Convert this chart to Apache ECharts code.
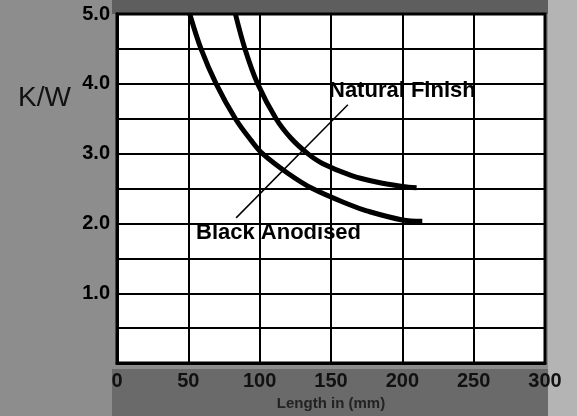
<!DOCTYPE html>
<html>
<head>
<meta charset="UTF-8"/>
<title>K/W vs Length</title>
<script src="https://cdn.jsdelivr.net/npm/echarts@6/dist/echarts.min.js"></script>
<style>
  html, body { margin: 0; padding: 0; background: #8d8d8d; }
  #chart { width: 577px; height: 416px; }
</style>
</head>
<body>
<div id="chart"></div>
<script>
// curve points: [length mm, K/W]
var blackAnodised = [[51, 5.0], [58.9, 4.5], [69.5, 4.0], [83, 3.5], [94, 3.19], [102, 3.0], [119.7, 2.72], [137, 2.5], [164, 2.26], [175, 2.18], [200, 2.05], [214, 2.03]];
var naturalFinish = [[83, 5.0], [89.7, 4.5], [98.6, 4.0], [111.5, 3.5], [122, 3.22], [133.7, 3.0], [144, 2.86], [164, 2.69], [182.7, 2.59], [200, 2.53], [210, 2.51]];
var pointerLine = [[161.8, 3.7], [83.5, 2.08]];
var xTicks = [0, 50, 100, 150, 200, 250, 300];
var yLabels = ['1.0', '2.0', '3.0', '4.0', '5.0'];

var chart = echarts.init(document.getElementById('chart'));
var ink = '#000';
var font = '"Liberation Sans", Arial, sans-serif';

var option = {
    backgroundColor: '#8d8d8d',
    animation: false,
    graphic: [
        // darker strip above and below the plot, lighter strip at right
        { type: 'rect', z: -10, shape: { x: 112, y: 0, width: 440, height: 14 }, style: { fill: '#5e5e5e' } },
        { type: 'rect', z: -10, shape: { x: 112, y: 369, width: 440, height: 47 }, style: { fill: '#6a6a6a' } },
        { type: 'rect', z: -10, shape: { x: 548, y: 0, width: 29, height: 416 }, style: { fill: '#b4b4b4' } },
        { type: 'text', left: 18, top: 84, style: { text: 'K/W', font: '28px ' + font, fill: '#111' } },
        { type: 'text', left: 329, top: 80, z: 20, style: { text: 'Natural Finish', font: 'bold 22px ' + font, fill: ink } },
        { type: 'text', left: 196, top: 222, z: 20, style: { text: 'Black Anodised', font: 'bold 22px ' + font, fill: ink } }
    ],
    grid: {
        left: 117, top: 14, right: 32, bottom: 49,
        show: true, backgroundColor: '#fff', borderWidth: 3, borderColor: '#000'
    },
    xAxis: {
        type: 'value', min: xTicks[0], max: xTicks[xTicks.length - 1], interval: 50,
        name: 'Length in (mm)', nameLocation: 'middle', nameGap: 32,
        nameTextStyle: { color: '#222', fontFamily: font, fontWeight: 'bold', fontSize: 15 },
        axisLine: { show: true, onZero: false, lineStyle: { color: '#000', width: 3 } },
        axisTick: { show: false },
        axisLabel: { color: '#111', fontFamily: font, fontWeight: 'bold', fontSize: 20, margin: 8,
            formatter: function (v) { return xTicks.indexOf(v) >= 0 ? String(v) : ''; } },
        splitLine: { show: true, lineStyle: { color: '#000', width: 2 } }
    },
    yAxis: {
        type: 'value', min: 0, max: 5, interval: 0.5,
        axisLine: { show: true, lineStyle: { color: '#000', width: 3 } },
        axisTick: { show: false },
        axisLabel: { color: ink, fontFamily: font, fontWeight: 'bold', fontSize: 20, margin: 7,
            formatter: function (v) {
                var s = v.toFixed(1);
                return yLabels.indexOf(s) >= 0 ? s : '';
            } },
        splitLine: { show: true, lineStyle: { color: '#000', width: 2 } }
    },
    series: [
        {
            name: 'Black Anodised', type: 'line', data: blackAnodised,
            smooth: 0.35, showSymbol: false, z: 5,
            lineStyle: { color: '#000', width: 5 }
        },
        {
            name: 'Natural Finish', type: 'line', data: naturalFinish,
            smooth: 0.35, showSymbol: false, z: 5,
            lineStyle: { color: '#000', width: 5 }
        },
        {
            name: 'pointer', type: 'line', data: pointerLine,
            showSymbol: false, z: 4,
            lineStyle: { color: '#000', width: 1.5 }
        }
    ]
};
chart.setOption(option);
</script>
</body>
</html>
